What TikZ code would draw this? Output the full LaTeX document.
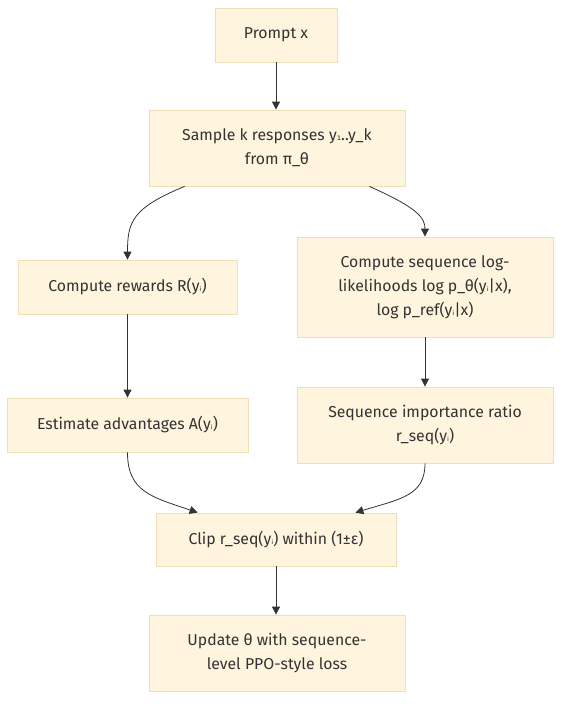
\documentclass[tikz,border=0pt]{standalone}
\usepackage{fontspec}
\setmainfont{Fira Sans}
\newfontfamily\djsub{DejaVu Sans}
\usetikzlibrary{arrows.meta}
\definecolor{boxfill}{HTML}{FFF4DD}
\definecolor{boxline}{HTML}{EFDFB8}
\definecolor{edgecol}{HTML}{333333}
\definecolor{txt}{HTML}{333333}
\newcommand{\yi}{y{\djsub\fontsize{11}{11}\selectfont ᵢ}}
\newcommand{\yone}{y{\djsub\fontsize{11}{11}\selectfont ₁}}
\tikzset{
  flowbox/.style={draw=boxline, fill=boxfill, line width=0.8pt, align=center,
    inner sep=0pt, text=txt, font=\fontsize{15.8}{24}\selectfont},
  flowedge/.style={draw=edgecol, line width=0.8pt, -{Triangle[length=8pt,width=8pt]}}
}
\begin{document}
\begin{tikzpicture}[x=1pt,y=-1pt]
\useasboundingbox (0,0) rectangle (570,710);
\node[flowbox, minimum width=122pt, minimum height=54pt] (prompt) at (276,35) {Prompt x};
\node[flowbox, minimum width=256pt, minimum height=76pt] (sample) at (277,148) {Sample k responses \yone..y\_k\\from π\_θ};
\node[flowbox, minimum width=219pt, minimum height=54pt] (rewards) at (127.5,287) {Compute rewards R(\yi)};
\node[flowbox, minimum width=256pt, minimum height=100pt] (seqll) at (425,287) {Compute sequence log-\\likelihoods log p\_θ(\yi|x),\\log p\_ref(\yi|x)};
\node[flowbox, minimum width=241pt, minimum height=54pt] (adv) at (127.5,425) {Estimate advantages A(\yi)};
\node[flowbox, minimum width=256pt, minimum height=76pt] (ratio) at (425,425) {Sequence importance ratio\\r\_seq(\yi)};
\node[flowbox, minimum width=240pt, minimum height=53pt] (clip) at (276,539.5) {Clip r\_seq(\yi) within (1±ε)};
\node[flowbox, minimum width=256pt, minimum height=76pt] (update) at (277,653) {Update θ with sequence-\\level PPO-style loss};

\draw[flowedge] (prompt.south) -- (prompt.south |- sample.north);
\draw[flowedge] ([xshift=36pt]sample.south west) .. controls (132,208) and (127.5,222) .. (rewards.north);
\draw[flowedge] ([xshift=-36pt]sample.south east) .. controls (418,208) and (425,218) .. (seqll.north);
\draw[flowedge] (rewards.south) -- (adv.north);
\draw[flowedge] (seqll.south) -- (ratio.north);
\draw[flowedge] (adv.south) .. controls (127.5,492) and (152,497) .. ([xshift=42pt]clip.north west);
\draw[flowedge] (ratio.south) .. controls (425,496) and (400,499) .. ([xshift=-41pt]clip.north east);
\draw[flowedge] (clip.south) -- (clip.south |- update.north);
\end{tikzpicture}
\end{document}
